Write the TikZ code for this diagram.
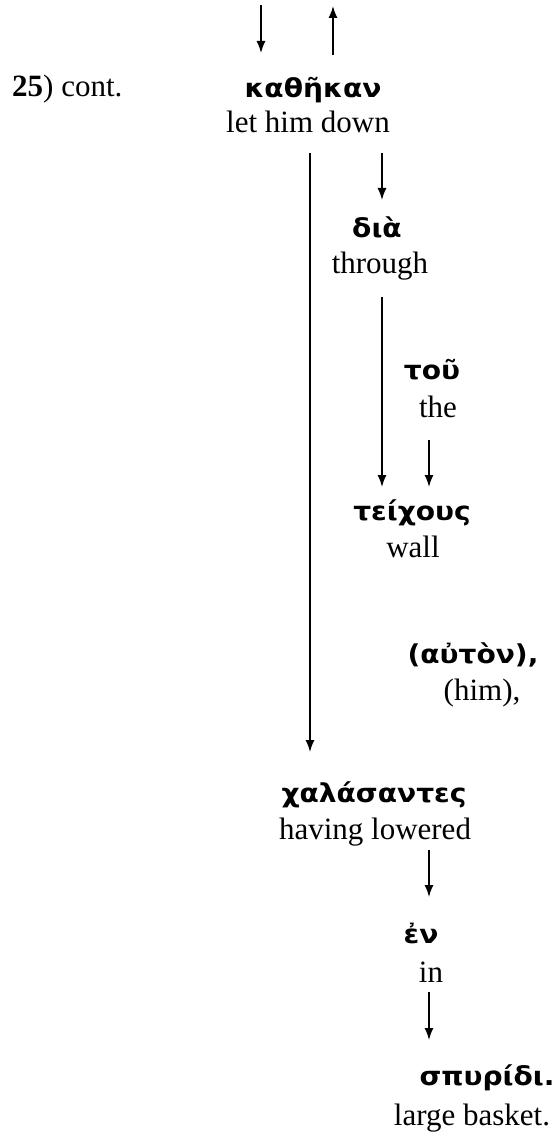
\documentclass[tikz,border=0pt]{standalone}
\usepackage{fontspec}
\setmainfont{Liberation Serif}
\newfontfamily\greekfont[FakeStretch=1.08]{DejaVu Sans}
\usetikzlibrary{arrows.meta,calc}
\begin{document}
\begin{tikzpicture}[x=1pt,y=-1pt,
  gr/.style={anchor=base,inner sep=0pt,font=\greekfont\bfseries\fontsize{26}{30}\selectfont},
  en/.style={anchor=base,inner sep=0pt,font=\fontsize{31}{36}\selectfont},
  link/.style={line width=1.5pt},
  arr/.style={link,-{Latex[length=12pt,width=9pt]}}]
\useasboundingbox (0,0) rectangle (557,1134);

% verse label
\node[en,anchor=base west] (num) at (12,97) {\textbf{25}) cont.};

% words: Greek above, English gloss below
\node[gr] (kath) at (313,98) {καθῆκαν};
\node[en] (kathE) at (308,133) {let him down};
\node[gr] (dia) at (377,237) {διὰ};
\node[en] (diaE) at (380,273) {through};
\node[gr] (tou) at (432,379) {τοῦ};
\node[en] (touE) at (438,417) {the};
\node[gr] (teich) at (412,520) {τείχους};
\node[en] (teichE) at (413,557) {wall};
\node[gr] (auton) at (473,663) {(αὐτὸν),};
\node[en] (autonE) at (482,700) {(him),};
\node[gr] (chal) at (374,802) {χαλάσαντες};
\node[en] (chalE) at (375,839) {having lowered};
\node[gr] (en) at (421,943) {ἐν};
\node[en] (enE) at (431,982) {in};
\node[gr] (spur) at (487,1085) {σπυρίδι.};
\node[en] (spurE) at (472,1125) {large basket.};

% links to the preceding and following lines
\coordinate (inTop) at (261,5);
\draw[arr] (inTop) -- ($(kath.base)+(-52,-45)$);
\coordinate (outTop) at (333,6);
\draw[arr] ($(kath.base)+(20,-43)$) -- (outTop);

% dependency arrows
\draw[arr] ($(kathE.base)+(2,20)$) -- ($(chal.base)+(-64,-50)$);
\draw[arr] ($(kathE.base)+(74,20)$) -- ($(dia.base)+(5,-37)$);
\draw[arr] ($(diaE.base)+(2,24)$) -- ($(teich.base)+(-30,-33)$);
\draw[arr] ($(touE.base)+(-9,23)$) -- ($(teich.base)+(17,-33)$);
\draw[arr] ($(chalE.base)+(54,11)$) -- ($(en.base)+(8,-46)$);
\draw[arr] ($(enE.base)+(-2,10)$) -- ($(spur.base)+(-58,-45)$);
\end{tikzpicture}
\end{document}
